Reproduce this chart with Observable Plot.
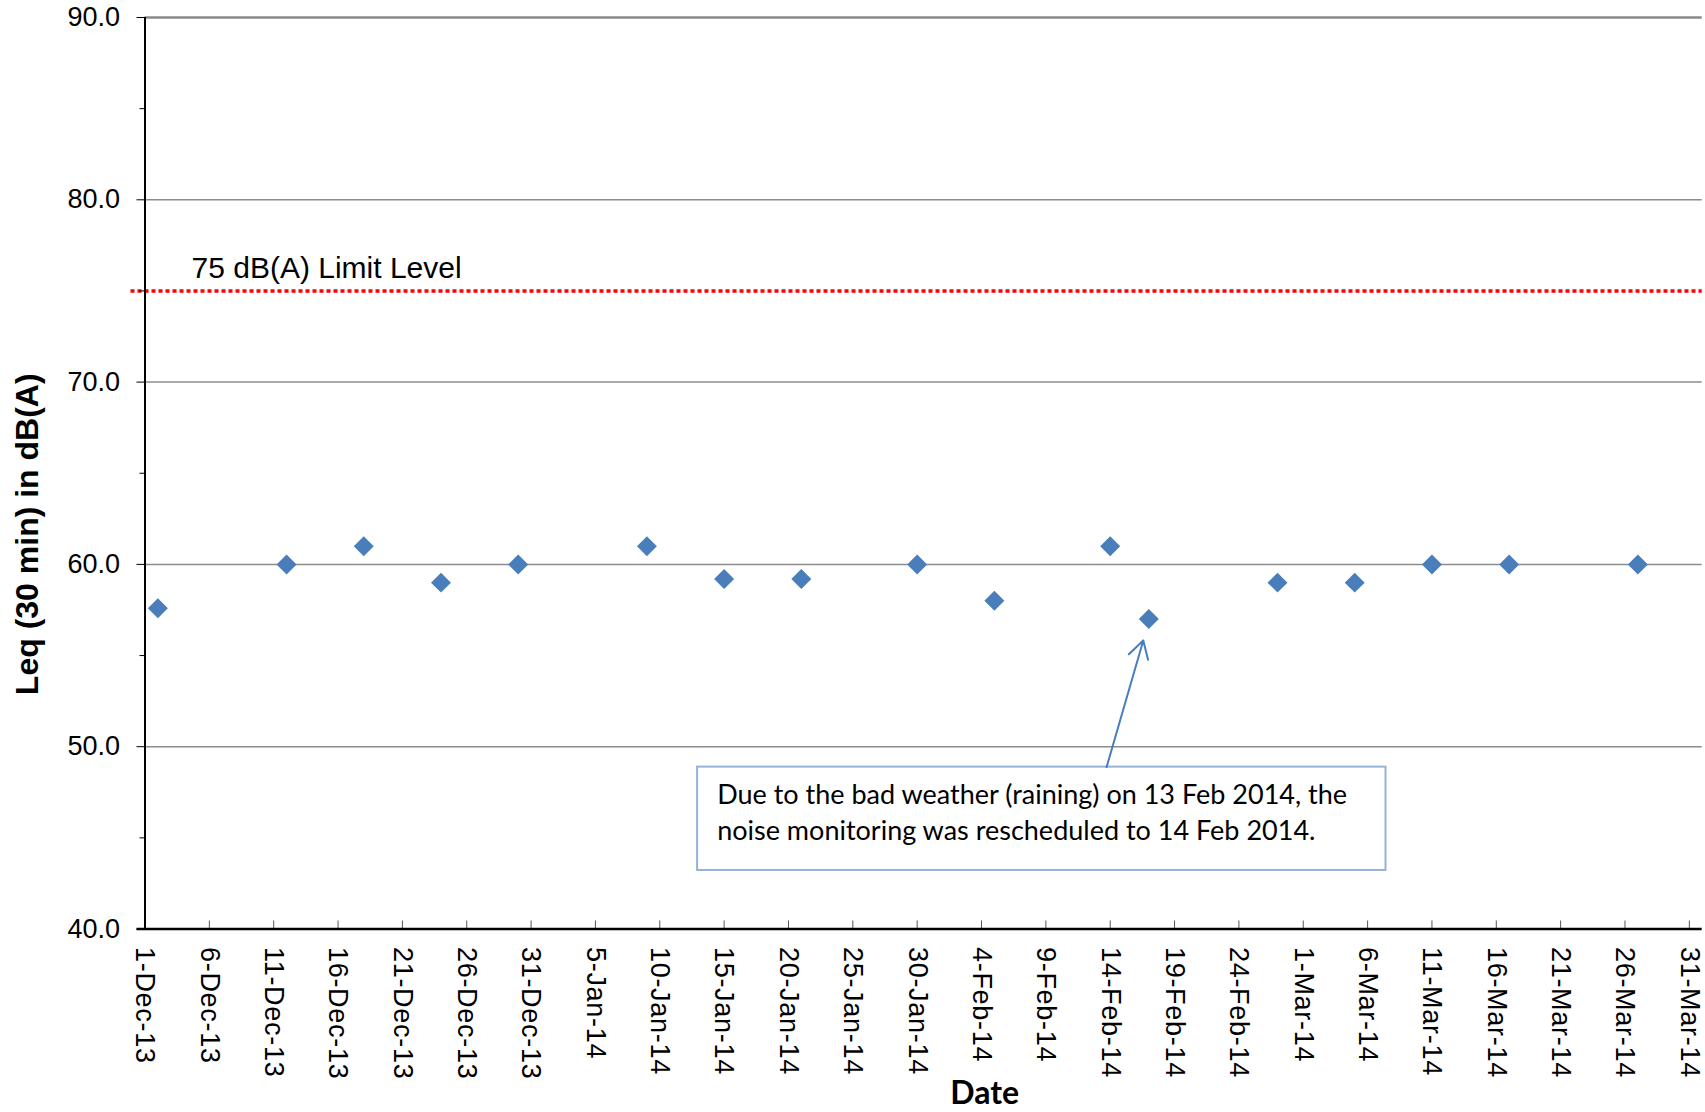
<!DOCTYPE html>
<html>
<head>
<meta charset="utf-8">
<script src="https://cdn.jsdelivr.net/npm/d3@7"></script>
<script src="https://cdn.jsdelivr.net/npm/@observablehq/plot@0.6"></script>
<style>
  html, body { margin: 0; padding: 0; background: #fff; }
  #chart svg { display: block; }
  #chart g[aria-label="x-axis tick label"] text { letter-spacing: 0.7px; }
</style>
</head>
<body>
<div id="chart"></div>
<script>
// ---- data ----
const dates = ["2013-12-02","2013-12-12","2013-12-18","2013-12-24","2013-12-30",
  "2014-01-09","2014-01-15","2014-01-21","2014-01-30","2014-02-05",
  "2014-02-14","2014-02-17","2014-02-27","2014-03-05","2014-03-11",
  "2014-03-17","2014-03-27"];
const leq = [57.6, 60.0, 61.0, 59.0, 60.0, 61.0, 59.2, 59.2, 60.0, 58.0,
  61.0, 57.0, 59.0, 59.0, 60.0, 60.0, 60.0];
const limitLevel = 75;
const limitLabel = "75 dB(A) Limit Level";
const xTickLabels = ["1-Dec-13","6-Dec-13","11-Dec-13","16-Dec-13","21-Dec-13","26-Dec-13",
  "31-Dec-13","5-Jan-14","10-Jan-14","15-Jan-14","20-Jan-14","25-Jan-14","30-Jan-14",
  "4-Feb-14","9-Feb-14","14-Feb-14","19-Feb-14","24-Feb-14","1-Mar-14","6-Mar-14",
  "11-Mar-14","16-Mar-14","21-Mar-14","26-Mar-14","31-Mar-14"];
const yMajor = [40, 50, 60, 70, 80, 90];
const yMinor = [45, 55, 65, 75, 85];
const yGrid = [50, 60, 70, 80];
const xDomain = ["2013-12-01", "2014-04-01"];
const yTitle = "Leq (30 min) in dB(A)";
const xTitle = "Date";
const noteText = "Due to the bad weather (raining) on 13 Feb 2014, the\nnoise monitoring was rescheduled to 14 Feb 2014.";
// annotation placement in data units
const noteBox = {x1: "2014-01-12T22:30Z", x2: "2014-03-07T10:20Z", y1: 43.21, y2: 48.88};
const noteAnchor = {x: "2014-01-14T11:00Z", y: 46.52};
const noteArrow = {x1: "2014-02-13T17:15Z", y1: 48.88, x2: "2014-02-16T13:40Z", y2: 55.83};

// ---- build tables ----
const parseTick = d3.utcParse("%-d-%b-%y");
const tickDates = xTickLabels.map(parseTick);
const tickLabelMap = new Map(tickDates.map((d, i) => [+d, xTickLabels[i]]));
const points = dates.map((d, i) => ({date: new Date(d + "T00:00Z"), value: leq[i]}));
const xDom = xDomain.map(d => new Date(d + "T00:00Z"));

const W = 1705, H = 1112;
const mL = 144.5, mR = 3.3, mT = 17, mB = 183.5;
const innerH = H - mT - mB;
const blue = "#4a7ebb";

const chart = Plot.plot({
  width: W, height: H,
  marginLeft: mL, marginRight: mR, marginTop: mT, marginBottom: mB,
  x: {type: "utc", domain: xDom},
  y: {domain: [40, 90]},
  style: {fontFamily: "'Liberation Sans', Arial, sans-serif", fontSize: "27px", color: "#000", background: "#fff"},
  marks: [
    Plot.ruleY(yGrid, {stroke: "#8c8c8c", strokeWidth: 1.5}),
    Plot.ruleY([90], {stroke: "#8a8a8a", strokeWidth: 2.5}),
    Plot.ruleY([limitLevel], {stroke: "#ff0000", strokeWidth: 3.5, strokeDasharray: "4,3", insetLeft: -14}),
    Plot.text([limitLabel], {frameAnchor: "left", y: [limitLevel], text: d => d, dx: 46.5, dy: -23,
      textAnchor: "start", fontSize: 30, fill: "#000"}),
    Plot.axisY({ticks: yMajor, tickSize: 8, tickPadding: 17, tickFormat: d3.format(".1f"), label: null, fontSize: 27}),
    Plot.axisY({ticks: yMinor, tickSize: 5, tickFormat: () => "", label: null}),
    Plot.axisX({ticks: tickDates, tickSize: 0, tickPadding: 18, tickRotate: 90,
      tickFormat: d => tickLabelMap.get(+d), label: null, fontSize: 27}),
    Plot.ruleX(tickDates, {insetTop: innerH - 8, stroke: "#555", strokeWidth: 1}),
    Plot.ruleX([xDom[0]], {stroke: "#000", strokeWidth: 2}),
    Plot.ruleY([40], {stroke: "#000", strokeWidth: 2.5, insetLeft: -8}),
    Plot.dot(points, {x: "date", y: "value", symbol: "diamond2", r: 9, fill: blue, stroke: null}),
    Plot.rect([noteBox], {x1: d => new Date(d.x1), x2: d => new Date(d.x2), y1: "y1", y2: "y2",
      fill: "#fff", stroke: "#95b3d7", strokeWidth: 2}),
    Plot.text([noteText], {x: () => new Date(noteAnchor.x), y: () => noteAnchor.y, text: d => d,
      textAnchor: "start", lineAnchor: "middle", lineHeight: 1.333, fontSize: 27,
      fontFamily: "Lato, 'Open Sans', sans-serif", fill: "#000"}),
    Plot.arrow([noteArrow], {x1: d => new Date(d.x1), y1: "y1", x2: d => new Date(d.x2), y2: "y2",
      stroke: blue, strokeWidth: 2, headLength: 15}),
    Plot.text([yTitle], {frameAnchor: "left", text: d => d, rotate: -90, dx: -117.5, dy: 61,
      textAnchor: "middle", fontWeight: "bold", fontSize: 32, fill: "#000", lineAnchor: "middle"}),
    Plot.text([xTitle], {frameAnchor: "bottom", text: d => d, dx: 61, dy: 164.5,
      textAnchor: "middle", fontWeight: "bold", fontSize: 32, fontFamily: "Lato, 'Open Sans', sans-serif", fill: "#000", lineAnchor: "middle"})
  ]
});
document.getElementById("chart").appendChild(chart);
</script>
</body>
</html>
